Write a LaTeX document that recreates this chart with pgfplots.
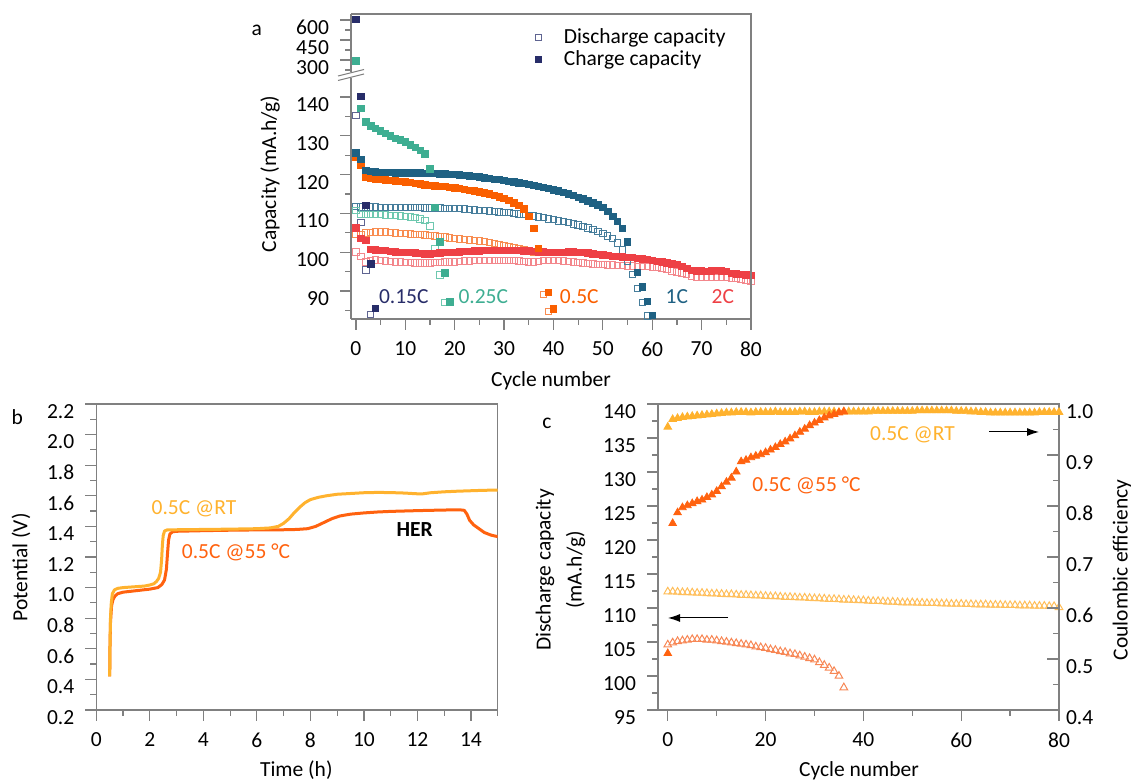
\documentclass[border=0pt]{standalone}
\usepackage{fontspec}
\setmainfont{Carlito}
\usepackage{pgfplots}
\pgfplotsset{compat=1.18}
\usetikzlibrary{arrows.meta}
\newcommand{\fs}{\fontsize{10.75pt}{13pt}\selectfont}
\definecolor{cNv}{RGB}{40,45,105}
\definecolor{cNvL}{RGB}{95,100,145}
\definecolor{cTl}{RGB}{62,174,146}
\definecolor{cTlL}{RGB}{110,200,175}
\definecolor{cOr}{RGB}{250,95,0}
\definecolor{cOrL}{RGB}{248,140,80}
\definecolor{cBl}{RGB}{31,97,131}
\definecolor{cBlL}{RGB}{70,125,155}
\definecolor{cRd}{RGB}{238,64,69}
\definecolor{cRdL}{RGB}{243,135,140}
\definecolor{cYe}{RGB}{255,178,46}
\definecolor{cYeL}{RGB}{255,190,90}
\definecolor{cOt}{RGB}{255,98,15}
\definecolor{cOtL}{RGB}{247,135,85}
\definecolor{axgray}{RGB}{128,128,128}
\pgfplotsset{
  myax/.style={scale only axis, axis line style={-, axgray, line width=0.6pt},
    tick style={axgray, line width=0.6pt}, tick align=outside,
    major tick length=5.5pt, minor tick length=3pt,
    tick label style={font=\fs}, /pgf/number format/assume math mode=true,
    yticklabel style={yshift=-3.75pt}, xticklabel shift=2.4pt},
  lefty/.style={yticklabel style={xshift=-2pt}},
  dis/.style={only marks, mark=square, mark size=1.6pt, mark options={line width=0.5pt}},
  chg/.style={only marks, mark=square*, mark size=1.6pt},
}
\begin{document}
\begin{tikzpicture}
\useasboundingbox (0,0) rectangle (565.5pt,390pt);
% ---------------- panel a, upper part
\begin{axis}[myax, lefty, at={(175.5pt,354pt)}, anchor=south west, width=200pt, height=29pt,
  xmin=-1, xmax=80, ymin=210, ymax=645, axis x line=none, axis y line*=left,
  ytick={300,450,600}, minor ytick={225,375,525},
  legend style={at={(axis description cs:0.46,0.41)}, anchor=west, draw=none, fill=none,
    font=\fs, inner sep=0pt, row sep=-2pt, /tikz/every odd column/.append style={column sep=9pt}},
  legend cell align=left]
\addlegendimage{dis, color=cNvL}
\addlegendentry{Discharge capacity}
\addlegendimage{chg, color=cNv}
\addlegendentry{Charge capacity}
\addplot[chg, color=cTl] coordinates {(0,293)};
\addplot[chg, color=cNv] coordinates {(0,605)};
\end{axis}
% ---------------- panel a, lower part
\begin{axis}[myax, lefty, at={(175.5pt,230.5pt)}, anchor=south west, width=200pt, height=120.7pt,
  xmin=-1, xmax=80, ymin=82.8, ymax=145, axis x line*=bottom, axis y line*=left,
  xtick={0,10,...,80}, minor xtick={5,15,...,75},
  ytick={90,100,...,140}, minor ytick={85,95,...,145}]
% discharge (open)
\addplot[dis, color=cRdL] coordinates {(0,100.1)(1,98.9)(2,97.5)(3,97.9)(4,98.0)(5,97.9)(6,97.7)(7,97.6)(8,97.5)(9,97.5)(10,97.4)(11,97.3)(12,97.2)(13,97.2)(14,97.2)(15,97.2)(16,97.3)(17,97.4)(18,97.5)(19,97.5)(20,97.5)(21,97.6)(22,97.7)(23,97.7)(24,97.8)(25,97.8)(26,97.9)(27,97.9)(28,97.9)(29,97.9)(30,97.9)(31,97.8)(32,97.8)(33,97.7)(34,97.6)(35,97.5)(36,97.5)(37,97.6)(38,97.8)(39,97.9)(40,97.9)(41,97.8)(42,97.7)(43,97.6)(44,97.5)(45,97.3)(46,97.2)(47,97.1)(48,97.0)(49,96.9)(50,96.8)(51,96.7)(52,96.7)(53,96.6)(54,96.6)(55,96.5)(56,96.5)(57,96.4)(58,96.4)(59,96.3)(60,96.2)(61,96.0)(62,95.8)(63,95.5)(64,95.2)(65,94.9)(66,94.6)(67,94.2)(68,93.8)(69,93.6)(70,93.5)(71,93.5)(72,93.5)(73,93.5)(74,93.5)(75,93.5)(76,93.4)(77,93.2)(78,93.0)(79,92.7)(80,92.4)};
\addplot[dis, color=cBlL] coordinates {(0,111.8)(1,111.7)(2,111.6)(3,111.7)(4,111.7)(5,111.6)(6,111.6)(7,111.6)(8,111.6)(9,111.5)(10,111.5)(11,111.5)(12,111.5)(13,111.5)(14,111.4)(15,111.4)(16,111.4)(17,111.4)(18,111.3)(19,111.3)(20,111.3)(21,111.2)(22,111.1)(23,111.0)(24,110.9)(25,110.8)(26,110.7)(27,110.6)(28,110.5)(29,110.4)(30,110.3)(31,110.2)(32,110.0)(33,109.9)(34,109.7)(35,109.5)(36,109.3)(37,109.1)(38,108.9)(39,108.6)(40,108.4)(41,108.1)(42,107.9)(43,107.6)(44,107.3)(45,107.0)(46,106.6)(47,106.2)(48,105.8)(49,105.3)(50,104.8)(51,104.2)(52,103.5)(53,102.4)(54,100.6)(55,97.6)(56,94.3)(57,90.7)(58,87.1)(59,83.6)};
\addplot[dis, color=cOrL] coordinates {(0,104.6)(1,104.6)(2,105.0)(3,105.1)(4,105.2)(5,105.2)(6,105.2)(7,105.1)(8,105.0)(9,104.9)(10,104.8)(11,104.7)(12,104.6)(13,104.5)(14,104.4)(15,104.3)(16,104.2)(17,104.0)(18,103.9)(19,103.7)(20,103.5)(21,103.4)(22,103.3)(23,103.2)(24,103.0)(25,102.9)(26,102.7)(27,102.5)(28,102.2)(29,101.9)(30,101.6)(31,101.4)(32,101.1)(33,100.9)(34,100.6)(35,100.3)(36,100.0)(38,89.1)(39,84.7)};
\addplot[dis, color=cTlL] coordinates {(0,110.8)(1,109.7)(2,109.7)(3,109.8)(4,109.8)(5,109.7)(6,109.6)(7,109.5)(8,109.4)(9,109.3)(10,109.2)(11,109.1)(12,108.9)(13,108.6)(14,108.2)(15,106.8)(16,101.0)(17,94.1)(18,87.0)};
\addplot[dis, color=cNvL] coordinates {(0,135.2)(1,107.6)(2,95.4)(3,84.0)};
% charge (filled)
\addplot[chg, color=cRd] coordinates {(0,106.3)(1,103.6)(2,103.1)(3,100.7)(4,100.6)(5,100.5)(6,100.4)(7,100.2)(8,100.1)(9,100.0)(10,100.0)(11,99.9)(12,99.8)(13,99.7)(14,99.6)(15,99.6)(16,99.7)(17,99.8)(18,99.9)(19,100.0)(20,100.0)(21,100.1)(22,100.2)(23,100.2)(24,100.3)(25,100.3)(26,100.4)(27,100.4)(28,100.5)(29,100.5)(30,100.5)(31,100.5)(32,100.4)(33,100.4)(34,100.3)(35,100.3)(36,100.2)(37,100.1)(38,100.1)(39,100.0)(40,100.0)(41,100.0)(42,100.0)(43,100.1)(44,100.1)(45,100.0)(46,99.9)(47,99.8)(48,99.6)(49,99.5)(50,99.3)(51,99.2)(52,99.0)(53,98.9)(54,98.8)(55,98.7)(56,98.6)(57,98.4)(58,98.3)(59,98.1)(60,97.9)(61,97.7)(62,97.5)(63,97.3)(64,97.0)(65,96.8)(66,96.3)(67,95.8)(68,95.3)(69,95.2)(70,95.2)(71,95.1)(72,95.2)(73,95.3)(74,95.2)(75,95.0)(76,94.5)(77,94.4)(78,94.3)(79,94.2)(80,94.0)};
\addplot[chg, color=cOr] coordinates {(0,124.4)(1,122.4)(2,119.4)(3,119.0)(4,118.8)(5,118.7)(6,118.6)(7,118.5)(8,118.4)(9,118.3)(10,118.1)(11,118.0)(12,117.8)(13,117.6)(14,117.4)(15,117.2)(16,117.1)(17,117.0)(18,116.9)(19,116.7)(20,116.6)(21,116.4)(22,116.2)(23,116.0)(24,115.8)(25,115.5)(26,115.3)(27,115.0)(28,114.7)(29,114.3)(30,113.8)(31,113.3)(32,112.7)(33,112.0)(34,111.2)(35,109.3)(36,106.2)(37,101.0)(39,89.6)(40,85.4)};
\addplot[chg, color=cBl] coordinates {(0,125.6)(1,123.9)(2,121.1)(3,120.9)(4,120.7)(5,120.6)(6,120.5)(7,120.5)(8,120.4)(9,120.4)(10,120.4)(11,120.4)(12,120.4)(13,120.4)(14,120.3)(15,120.3)(16,120.3)(17,120.2)(18,120.2)(19,120.1)(20,120.0)(21,119.9)(22,119.8)(23,119.7)(24,119.5)(25,119.4)(26,119.2)(27,119.0)(28,118.8)(29,118.7)(30,118.5)(31,118.3)(32,118.1)(33,117.9)(34,117.7)(35,117.5)(36,117.2)(37,117.0)(38,116.7)(39,116.4)(40,116.1)(41,115.8)(42,115.4)(43,115.0)(44,114.6)(45,114.2)(46,113.7)(47,113.2)(48,112.7)(49,112.2)(50,111.6)(51,110.5)(52,109.2)(53,108.0)(54,106.2)(55,102.7)(57,94.8)(58,91.1)(59,87.4)(60,83.8)};
\addplot[chg, color=cTl] coordinates {(1,137.1)(2,133.6)(3,132.6)(4,131.9)(5,131.3)(6,130.6)(7,130.0)(8,129.4)(9,128.9)(10,128.4)(11,127.7)(12,127.0)(13,126.2)(14,125.3)(15,121.5)(16,111.6)(17,102.7)(18,94.7)(19,87.2)};
\addplot[chg, color=cNv] coordinates {(1,140.2)(2,112.0)(3,97.0)(4,85.5)};
\end{axis}
\draw[axgray, line width=0.6pt] (375.5pt,230.5pt) -- (375.5pt,383pt) -- (175.5pt,383pt);
\fill[white] (169pt,349.75pt) -- (182pt,353pt) -- (182pt,355.25pt) -- (169pt,352pt) -- cycle;
\draw[axgray, line width=0.5pt] (169pt,349.75pt) -- (182pt,353pt);
\draw[axgray, line width=0.5pt] (169pt,352pt) -- (182pt,355.25pt);
\node[font=\fs] at (128.35pt,374.65pt) {a};
\node[font=\fs, rotate=90] at (135pt,303pt) {Capacity (mA.h/g)};
\node[font=\fs] at (275.5pt,199.5pt) {Cycle number};
\node[font=\fs, text=cNv] at (201.9pt,241.65pt) {0.15C};
\node[font=\fs, text=cTl] at (241.65pt,241.65pt) {0.25C};
\node[font=\fs, text=cOr] at (289.65pt,241.65pt) {0.5C};
\node[font=\fs, text=cBl] at (338.4pt,241.65pt) {1C};
\node[font=\fs, text=cRd] at (361.4pt,241.65pt) {2C};
% ---------------- panel b
\begin{axis}[myax, lefty, at={(48.15pt,35pt)}, anchor=south west, width=200.7pt, height=153pt,
  xmin=0, xmax=15, ymin=0.2, ymax=2.2, xtick pos=left, ytick pos=left,
  xtick={0,2,4,6,8,10,12,14}, minor xtick={1,3,5,7,9,11,13,15},
  ytick={0.2,0.4,0.6,0.8,1.0,1.2,1.4,1.6,1.8,2.0,2.2},
  minor ytick={0.3,0.5,0.7,0.9,1.1,1.3,1.5,1.7,1.9,2.1},
  yticklabel style={/pgf/number format/.cd, fixed, fixed zerofill, precision=1}]
\addplot[color=cOt, line width=1.5pt, line join=round] coordinates {(0.50,0.42)(0.51,0.60)(0.53,0.77)(0.57,0.88)(0.62,0.92)(0.70,0.945)(0.80,0.96)(1.0,0.97)(1.5,0.98)(2.0,0.99)(2.3,1.00)(2.45,1.02)(2.55,1.05)(2.62,1.12)(2.66,1.22)(2.70,1.31)(2.75,1.35)(2.85,1.365)(3.0,1.368)(4.0,1.372)(5.0,1.375)(6.0,1.377)(7.0,1.378)(7.5,1.38)(7.9,1.385)(8.2,1.40)(8.5,1.425)(8.8,1.45)(9.1,1.468)(9.5,1.48)(10.0,1.488)(10.5,1.494)(11.0,1.498)(12.0,1.503)(13.0,1.507)(13.6,1.508)(13.75,1.505)(13.85,1.48)(13.95,1.44)(14.1,1.41)(14.3,1.385)(14.5,1.36)(14.75,1.343)(15.0,1.333)};
\addplot[color=cYe, line width=1.5pt, line join=round] coordinates {(0.50,0.42)(0.51,0.60)(0.53,0.80)(0.56,0.90)(0.60,0.96)(0.68,0.985)(0.80,0.995)(1.0,1.0)(1.4,1.005)(1.8,1.01)(2.0,1.017)(2.15,1.025)(2.25,1.04)(2.33,1.06)(2.40,1.10)(2.44,1.18)(2.47,1.28)(2.50,1.34)(2.55,1.37)(2.65,1.377)(3.0,1.378)(4.0,1.38)(5.0,1.382)(6.0,1.385)(6.5,1.39)(6.8,1.40)(7.0,1.42)(7.2,1.45)(7.4,1.49)(7.6,1.525)(7.8,1.555)(8.0,1.575)(8.3,1.59)(8.6,1.60)(9.0,1.61)(9.5,1.615)(10.0,1.62)(10.5,1.622)(11.0,1.621)(11.5,1.618)(12.0,1.613)(12.2,1.613)(12.5,1.62)(13.0,1.626)(13.5,1.63)(14.0,1.633)(14.5,1.636)(15.0,1.637)};
\end{axis}
\node[font=\fs] at (8.65pt,181.65pt) {b};
\node[font=\fs, rotate=90] at (10.5pt,106.25pt) {Potential (V)};
\node[font=\fs, anchor=base] at (148.15pt,1.5pt) {Time (h)};
\node[font=\fs, text=cYe] at (97pt,135.85pt) {0.5C @RT};
\node[font=\fs, text=cOt] at (118pt,113.75pt) {0.5C @55 °C};
\node[font=\fs\bfseries] at (207.35pt,125.25pt) {HER};
% ---------------- panel c
\begin{axis}[myax, lefty, at={(329pt,35pt)}, anchor=south west, width=200.5pt, height=153pt,
  xmin=-2, xmax=80, ymin=95, ymax=140, xtick pos=left, ytick pos=left,
  xtick={0,20,40,60,80}, minor xtick={10,30,50,70},
  ytick={95,100,...,140}, minor ytick={97.5,102.5,...,137.5}]
\addplot[only marks, mark=triangle, mark size=2.2pt, mark options={line width=0.5pt}, color=cYeL] coordinates {(0,112.4)(1,112.4)(2,112.35)(3,112.3)(4,112.3)(5,112.25)(6,112.2)(7,112.2)(8,112.15)(9,112.1)(10,112.1)(11,112.05)(12,112.0)(13,112.0)(14,111.95)(15,111.9)(16,111.9)(17,111.85)(18,111.8)(19,111.8)(20,111.75)(21,111.7)(22,111.7)(23,111.65)(24,111.6)(25,111.6)(26,111.55)(27,111.5)(28,111.5)(29,111.45)(30,111.4)(31,111.4)(32,111.35)(33,111.3)(34,111.3)(35,111.25)(36,111.2)(37,111.2)(38,111.15)(39,111.1)(40,111.1)(41,111.05)(42,111.0)(43,111.0)(44,110.95)(45,110.9)(46,110.9)(47,110.85)(48,110.8)(49,110.8)(50,110.8)(51,110.75)(52,110.75)(53,110.7)(54,110.7)(55,110.7)(56,110.65)(57,110.65)(58,110.6)(59,110.6)(60,110.6)(61,110.55)(62,110.55)(63,110.5)(64,110.5)(65,110.5)(66,110.45)(67,110.45)(68,110.45)(69,110.4)(70,110.4)(71,110.4)(72,110.35)(73,110.35)(74,110.35)(75,110.3)(76,110.3)(77,110.3)(78,110.25)(79,110.25)(80,110.1)};
\addplot[only marks, mark=triangle, mark size=2.2pt, mark options={line width=0.5pt}, color=cOtL] coordinates {(0,104.6)(1,104.9)(2,105.1)(3,105.2)(4,105.3)(5,105.4)(6,105.4)(7,105.4)(8,105.3)(9,105.3)(10,105.2)(11,105.1)(12,105.0)(13,104.9)(14,104.8)(15,104.7)(16,104.6)(17,104.5)(18,104.3)(19,104.2)(20,104.1)(21,103.9)(22,103.8)(23,103.6)(24,103.5)(25,103.3)(26,103.2)(27,103.0)(28,102.8)(29,102.6)(30,102.4)(31,102.0)(32,101.6)(33,101.2)(34,100.7)(35,100.0)(36,98.3)};
\end{axis}
\begin{axis}[myax, at={(329pt,35pt)}, anchor=south west, width=200.5pt, height=153pt,
  xmin=-2, xmax=80, ymin=0.4, ymax=1.0, axis x line=none, axis y line*=right,
  tick align=inside, major tick length=6pt, minor tick length=3pt,
  ytick={0.4,0.5,0.6,0.7,0.8,0.9,1.0}, minor ytick={0.45,0.55,0.65,0.75,0.85,0.95},
  yticklabel style={/pgf/number format/.cd, fixed, fixed zerofill, precision=1}]
\addplot[only marks, mark=triangle*, mark size=2.2pt, color=cYe] coordinates {(0,.955)(1,.970)(2,.972)(3,.974)(4,.975)(5,.976)(6,.977)(7,.978)(8,.979)(9,.980)(10,.981)(11,.982)(12,.983)(13,.983)(14,.984)(15,.984)(16,.984)(17,.983)(18,.984)(19,.984)(20,.984)(21,.984)(22,.985)(23,.984)(24,.984)(25,.984)(26,.984)(27,.985)(28,.985)(29,.984)(30,.984)(31,.985)(32,.985)(33,.985)(34,.985)(35,.984)(36,.985)(37,.985)(38,.985)(39,.985)(40,.985)(41,.985)(42,.986)(43,.986)(44,.986)(45,.986)(46,.986)(47,.986)(48,.986)(49,.986)(50,.986)(51,.987)(52,.987)(53,.987)(54,.987)(55,.987)(56,.987)(57,.987)(58,.987)(59,.986)(60,.986)(61,.986)(62,.985)(63,.985)(64,.984)(65,.984)(66,.983)(67,.983)(68,.983)(69,.983)(70,.983)(71,.983)(72,.983)(73,.983)(74,.983)(75,.983)(76,.984)(77,.984)(78,.984)(79,.984)(80,.984)};
\addplot[only marks, mark=triangle*, mark size=2.2pt, color=cOt] coordinates {(0,.511)(1,.766)(2,.787)(3,.797)(4,.801)(5,.805)(6,.809)(7,.812)(8,.817)(9,.822)(10,.829)(11,.838)(12,.847)(13,.855)(14,.867)(15,.887)(16,.890)(17,.895)(18,.898)(19,.901)(20,.905)(21,.910)(22,.915)(23,.921)(24,.926)(25,.932)(26,.938)(27,.945)(28,.951)(29,.958)(30,.963)(31,.968)(32,.973)(33,.977)(34,.980)(35,.983)(36,.985)};
\end{axis}
\node[font=\fs] at (273.5pt,178.35pt) {c};
\node[font=\fs, rotate=90, align=center] at (280.25pt,105pt) {Discharge capacity\\[2.5pt](mA.h/g)};
\node[font=\fs, rotate=90] at (561pt,105pt) {Coulombic efficiency};
\node[font=\fs, anchor=base] at (429.5pt,1.5pt) {Cycle number};
\node[font=\fs, text=cYe] at (456.25pt,172.5pt) {0.5C @RT};
\node[font=\fs, text=cOt] at (403.25pt,147.5pt) {0.5C @55 °C};
\draw[-{Latex[length=6pt,width=4pt]}, line width=0.5pt] (494.5pt,174pt) -- (519.5pt,174pt);
\draw[-{Latex[length=6pt,width=4pt]}, line width=0.5pt] (364pt,81pt) -- (334pt,81pt);
\end{tikzpicture}
\end{document}
